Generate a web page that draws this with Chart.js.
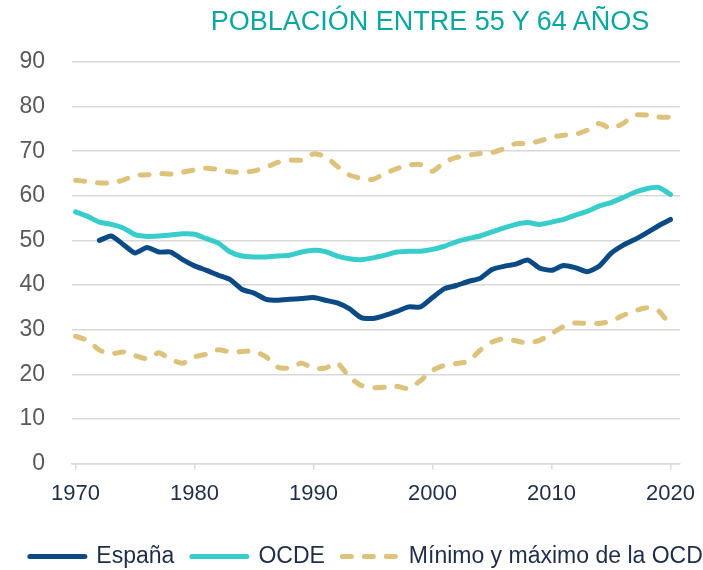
<!DOCTYPE html>
<html>
<head>
<meta charset="utf-8">
<script src="https://cdn.jsdelivr.net/npm/chart.js"></script>
<style>
    body { margin: 0; width: 703px; height: 570px; overflow: hidden; background: #fff; position: relative; }
    #title { position: absolute; top: 6px; left: 0; width: 860px; text-align: center; font: 27px/30px "Liberation Sans", Arial, sans-serif; color: #0aa6a0; z-index: 1; }
    #myChart { position: absolute; top: 0; left: 0; }
</style>
</head>
<body>
<div id="title">POBLACIÓN ENTRE 55 Y 64 AÑOS</div>
<canvas id="myChart" width="748" height="600"></canvas>
<script>
const years = [1970, 1971, 1972, 1973, 1974, 1975, 1976, 1977, 1978, 1979,
    1980, 1981, 1982, 1983, 1984, 1985, 1986, 1987, 1988, 1989,
    1990, 1991, 1992, 1993, 1994, 1995, 1996, 1997, 1998, 1999,
    2000, 2001, 2002, 2003, 2004, 2005, 2006, 2007, 2008, 2009,
    2010, 2011, 2012, 2013, 2014, 2015, 2016, 2017, 2018, 2019, 2020];

const espana = [null, null, 50.0, 51.0, 49.1, 47.2, 48.4, 47.4, 47.4, 45.7,
    44.3, 43.3, 42.2, 41.2, 39.0, 38.2, 36.8, 36.6, 36.8, 37.0,
    37.2, 36.6, 36.0, 34.7, 32.7, 32.5, 33.2, 34.1, 35.1, 35.1,
    37.2, 39.2, 39.9, 40.8, 41.5, 43.5, 44.2, 44.7, 45.6, 43.8,
    43.3, 44.4, 43.9, 43.0, 44.2, 47.1, 48.9, 50.2, 51.7, 53.3, 54.7];

const ocde = [56.4, 55.4, 54.1, 53.6, 52.8, 51.3, 50.9, 51.0, 51.2, 51.5,
    51.4, 50.4, 49.4, 47.4, 46.5, 46.3, 46.3, 46.5, 46.7, 47.4,
    47.8, 47.5, 46.5, 45.9, 45.7, 46.1, 46.7, 47.4, 47.6, 47.6,
    48.0, 48.7, 49.7, 50.4, 51.0, 51.9, 52.8, 53.6, 54.0, 53.6,
    54.1, 54.7, 55.7, 56.5, 57.7, 58.5, 59.6, 60.8, 61.6, 61.9, 60.3];

const maximo = [63.5, 63.2, 62.9, 62.9, 63.5, 64.6, 64.7, 65.0, 64.9, 65.3,
    65.8, 66.2, 65.9, 65.4, 65.2, 65.6, 66.4, 67.5, 68.0, 68.0,
    69.4, 68.8, 66.6, 64.7, 63.9, 63.7, 65.0, 66.1, 66.9, 67.0,
    65.5, 67.6, 68.6, 69.1, 69.5, 69.7, 70.6, 71.7, 71.7, 72.3,
    73.1, 73.6, 73.8, 74.7, 76.2, 75.1, 76.2, 78.1, 78.1, 77.7, 77.6];

const minimo = [28.5, 27.6, 25.4, 24.6, 25.0, 24.2, 23.5, 24.8, 23.3, 22.5,
    23.9, 24.5, 25.5, 25.0, 25.1, 25.2, 23.9, 21.6, 21.4, 22.5,
    21.3, 21.4, 22.5, 19.4, 17.5, 17.0, 17.1, 17.3, 16.8, 18.6,
    20.9, 22.0, 22.4, 22.9, 25.4, 27.2, 28.0, 27.5, 27.0, 27.6,
    29.1, 30.7, 31.5, 31.4, 31.4, 31.9, 33.2, 34.2, 34.9, 34.2, 31.0];

const xTicks = [1970, 1980, 1990, 2000, 2010, 2020];
const yTicks = [0, 10, 20, 30, 40, 50, 60, 70, 80, 90];

const FONT = '"Liberation Sans", Arial, sans-serif';
const gridColor = '#d9d9d9';
const DASH = [9, 13];

const toPoints = (values) => years.map((yr, i) => ({ x: yr, y: values[i] }));

const lineStyle = (color, dashed) => ({
    borderColor: color,
    backgroundColor: color,
    borderWidth: 5,
    borderDash: dashed ? DASH : [],
    borderCapStyle: 'round',
    borderJoinStyle: 'round',
    pointRadius: 0,
    tension: 0.2,
    fill: false,
});

const createChart = () => {
    const ctx = document.getElementById('myChart').getContext('2d');
    new Chart(ctx, {
        type: 'line',
        data: {
            datasets: [
                { label: 'España', data: toPoints(espana), ...lineStyle('#0b4a85', false) },
                { label: 'OCDE', data: toPoints(ocde), ...lineStyle('#38cdca', false) },
                { label: 'Mínimo y máximo de la OCDE', data: toPoints(maximo), ...lineStyle('#dcc27a', true) },
                { label: 'Mínimo y máximo de la OCDE', data: toPoints(minimo), ...lineStyle('#dcc27a', true) },
            ],
        },
        options: {
            responsive: false,
            animation: false,
            layout: { padding: { top: 62, bottom: 22, left: 0, right: 0 } },
            plugins: {
                title: { display: false },
                tooltip: { enabled: false },
                legend: {
                    position: 'bottom',
                    labels: {
                        usePointStyle: true,
                        pointStyle: 'line',
                        pointStyleWidth: 55,
                        padding: 17.5,
                        color: '#1f2d48',
                        font: { family: FONT, size: 23 },
                        filter: (item) => item.datasetIndex !== 3,
                        generateLabels: (chart) => {
                            const items = Chart.defaults.plugins.legend.labels.generateLabels(chart);
                            items.forEach(item => {
                                const ds = chart.data.datasets[item.datasetIndex];
                                item.lineDash = ds.borderDash;
                                item.lineCap = 'round';
                                item.lineWidth = 5;
                            });
                            return items;
                        },
                    },
                },
            },
            scales: {
                x: {
                    type: 'linear',
                    min: 1969.7,
                    max: 2020.8,
                    afterBuildTicks: (axis) => { axis.ticks = xTicks.map(v => ({ value: v })); },
                    afterFit: (axis) => { axis.height = 64; },
                    grid: { drawOnChartArea: false, drawTicks: true, tickLength: 6, color: gridColor, lineWidth: 1.5 },
                    border: { display: true, color: gridColor, width: 1.5 },
                    ticks: {
                        padding: 11,
                        maxRotation: 0,
                        autoSkip: false,
                        color: '#1f2d48',
                        font: { family: FONT, size: 22 },
                        callback: (v) => String(v),
                    },
                },
                y: {
                    min: 0,
                    max: 90,
                    afterBuildTicks: (axis) => { axis.ticks = yTicks.map(v => ({ value: v })); },
                    afterFit: (axis) => { axis.width = 72; },
                    grid: { color: gridColor, lineWidth: 1.5, drawTicks: false },
                    border: { display: false },
                    ticks: {
                        padding: 27,
                        color: '#595959',
                        font: { family: FONT, size: 23 },
                    },
                },
                pad: {
                    type: 'linear',
                    position: 'right',
                    afterFit: (axis) => { axis.width = 68; },
                    grid: { display: false },
                    border: { display: false },
                    ticks: { display: false },
                },
            },
        },
    });
};

window.onload = () => {
    createChart();
};
</script>
</body>
</html>
